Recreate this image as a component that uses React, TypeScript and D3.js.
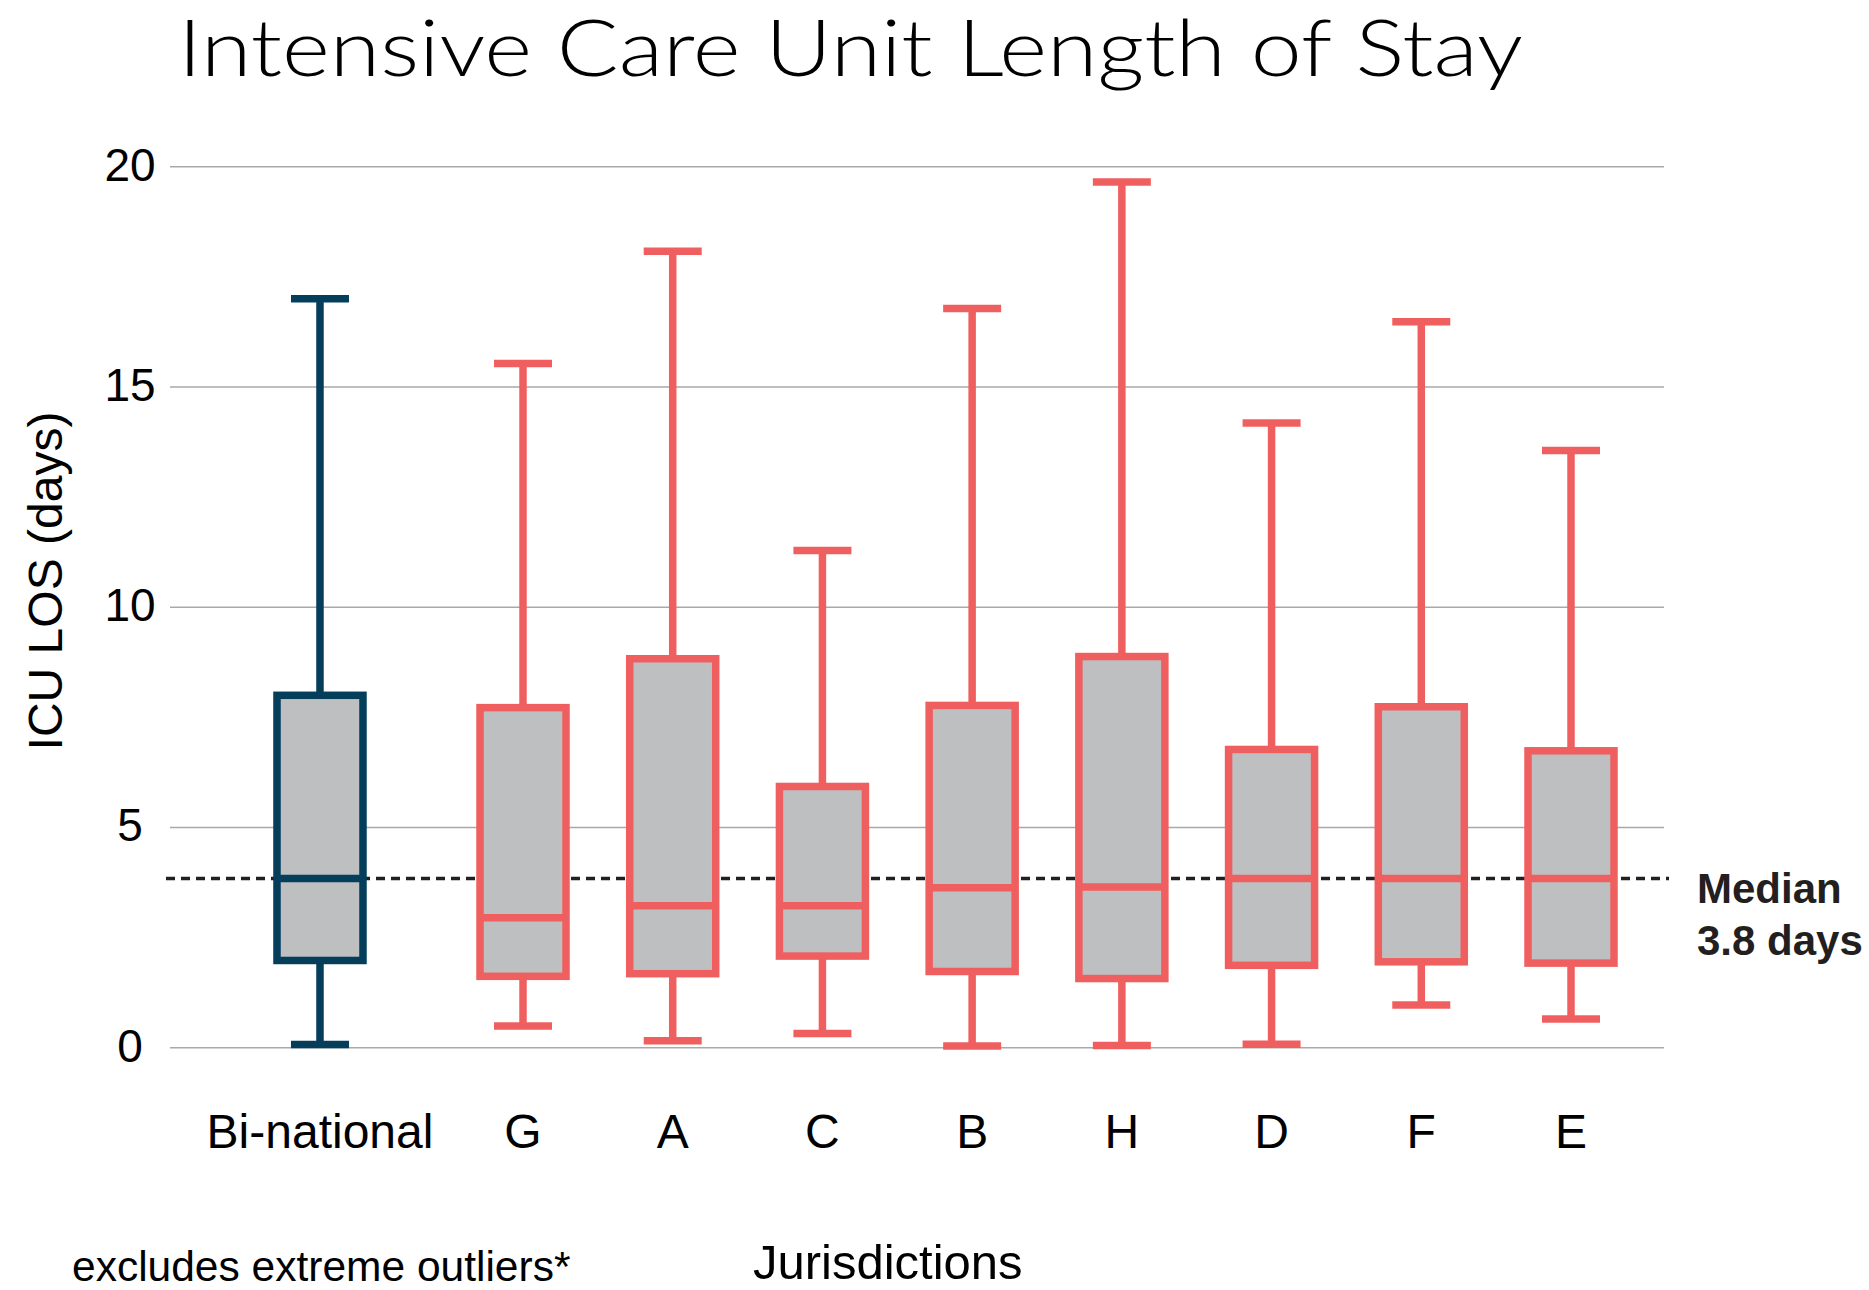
import React from "react";
import * as d3 from "d3";

const categories = ["Bi-national", "G", "A", "C", "B", "H", "D", "F", "E"];
const whiskerHigh = [17.0, 15.53, 18.08, 11.29, 16.78, 19.65, 14.18, 16.48, 13.56];
const q3 = [8.0, 7.72, 8.83, 5.93, 7.77, 8.88, 6.77, 7.74, 6.74];
const medians = [3.84, 2.95, 3.22, 3.22, 3.63, 3.65, 3.84, 3.84, 3.84];
const q1 = [1.98, 1.62, 1.68, 2.08, 1.73, 1.57, 1.87, 1.95, 1.92];
const whiskerLow = [0.07, 0.49, 0.16, 0.32, 0.04, 0.05, 0.08, 0.97, 0.65];
const yTicks = [0, 5, 10, 15, 20];
const overallMedian = 3.84;
const medianLabel = ["Median", "3.8 days"];
const title = "Intensive Care Unit Length of Stay";
const yLabel = "ICU LOS (days)";
const xLabel = "Jurisdictions";
const footnote = "excludes extreme outliers*";

const W = 1869;
const H = 1290;
const NAVY = "#053e5b";
const RED = "#f05f5f";
const FILL = "#bebfc1";
const FONT = "'Liberation Sans', Arial, Helvetica, sans-serif";

export default function App() {
  const y = d3.scaleLinear().domain([0, 20]).range([1047.7, 166.7]);
  const jur = categories.slice(1);
  const xJur = d3.scalePoint<string>().domain(jur).range([523, 1571]);
  const step = xJur.step();
  const biGap = 1.356;
  const xPos = (c: string) =>
    c === categories[0] ? (xJur(jur[0]) as number) - biGap * step : (xJur(c) as number);

  const boxW = 86;
  const capW = 58;
  const sw = 7.5;

  const rows = categories.map((c, i) => ({
    c,
    hi: whiskerHigh[i],
    q3: q3[i],
    med: medians[i],
    q1: q1[i],
    lo: whiskerLow[i],
    color: i === 0 ? NAVY : RED,
  }));

  return (
    <svg
      width={W}
      height={H}
      style={{ position: "absolute", left: 0, top: 0, display: "block", background: "#fff" }}
    >
      <rect x={0} y={0} width={W} height={H} fill="#fff" />
      <text
        x={178}
        y={76}
        fontFamily="Lato, 'Open Sans', sans-serif"
        fontSize={78}
        fontWeight={300}
        fill="#000"
        textLength={1345}
        lengthAdjust="spacingAndGlyphs"
      >
        {title}
      </text>

      {yTicks.map((t) => (
        <g key={t}>
          <line x1={170} x2={1664} y1={y(t)} y2={y(t)} stroke="#a9a9a9" strokeWidth={1.5} />
          <text
            x={130}
            y={y(t) + 14}
            textAnchor="middle"
            fontFamily={FONT}
            fontSize={46}
            fill="#000"
          >
            {t}
          </text>
        </g>
      ))}

      <text
        transform={`translate(62,581) rotate(-90)`}
        textAnchor="middle"
        fontFamily={FONT}
        fontSize={48}
        fill="#000"
      >
        {yLabel}
      </text>

      <line
        x1={166}
        x2={1669}
        y1={y(overallMedian)}
        y2={y(overallMedian)}
        stroke="#231f20"
        strokeWidth={3.5}
        strokeDasharray="9,6"
      />

      {rows.map((r) => {
        const cx = xPos(r.c);
        return (
          <g key={r.c}>
            <line x1={cx} x2={cx} y1={y(r.hi)} y2={y(r.q3)} stroke={r.color} strokeWidth={sw} />
            <line x1={cx} x2={cx} y1={y(r.q1)} y2={y(r.lo)} stroke={r.color} strokeWidth={sw} />
            <line
              x1={cx - capW / 2}
              x2={cx + capW / 2}
              y1={y(r.hi)}
              y2={y(r.hi)}
              stroke={r.color}
              strokeWidth={sw}
            />
            <line
              x1={cx - capW / 2}
              x2={cx + capW / 2}
              y1={y(r.lo)}
              y2={y(r.lo)}
              stroke={r.color}
              strokeWidth={sw}
            />
            <rect
              x={cx - boxW / 2}
              y={y(r.q3)}
              width={boxW}
              height={y(r.q1) - y(r.q3)}
              fill={FILL}
              stroke={r.color}
              strokeWidth={sw}
            />
            <line
              x1={cx - boxW / 2}
              x2={cx + boxW / 2}
              y1={y(r.med)}
              y2={y(r.med)}
              stroke={r.color}
              strokeWidth={sw}
            />
            <text
              x={cx}
              y={1148}
              textAnchor="middle"
              fontFamily={FONT}
              fontSize={48}
              fill="#000"
            >
              {r.c}
            </text>
          </g>
        );
      })}

      <text fontFamily={FONT} fontSize={42} fontWeight={700} fill="#231f20">
        <tspan x={1697} y={903}>
          {medianLabel[0]}
        </tspan>
        <tspan x={1697} y={955}>
          {medianLabel[1]}
        </tspan>
      </text>

      <text x={72} y={1281} fontFamily={FONT} fontSize={42.5} fill="#000">
        {footnote}
      </text>
      <text x={753} y={1279} fontFamily={FONT} fontSize={49} fill="#000">
        {xLabel}
      </text>
    </svg>
  );
}
